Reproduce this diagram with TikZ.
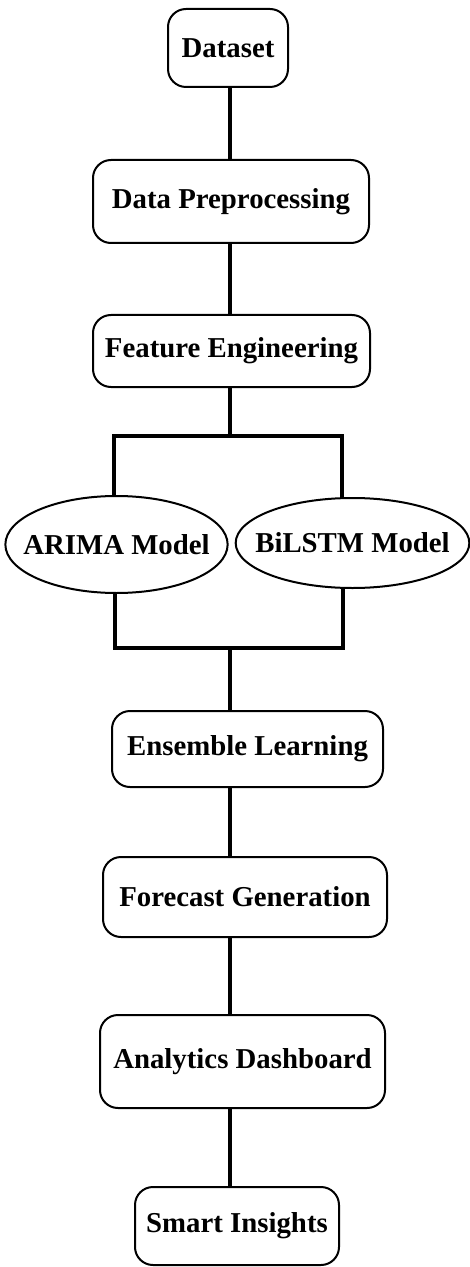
\documentclass[tikz,border=0pt]{standalone}
\usepackage{fontspec}
\setmainfont{Liberation Serif}
\usepackage{tikz}
\usetikzlibrary{shapes.geometric}

\begin{document}
\begin{tikzpicture}[x=0.5pt,y=-0.5pt,
    box/.style={draw,line width=1pt,rounded corners=9pt,align=center,inner sep=0pt,
      font=\fontsize{14.4}{16}\selectfont\bfseries},
    oval/.style={draw,line width=1pt,ellipse,inner xsep=-7.3pt,inner ysep=0pt,
      font=\fontsize{14.4}{16}\selectfont\bfseries},
    link/.style={line width=1.6pt}]
        \useasboundingbox (0,0) rectangle (470,1267);
        \coordinate (spine) at (230,0);
        \node[box,minimum width=60pt,minimum height=39pt] (dataset) at (228,48) {Dataset};
        \node[box,minimum width=138pt,minimum height=41.5pt] (prep) at (231,201.5) {Data Preprocessing};
        \node[box,minimum width=138.5pt,minimum height=36pt] (feat) at (231.5,351) {Feature Engineering};
        \node[oval,minimum width=108.5pt,minimum height=48.5pt] (arima) at (116.5,544.5) {ARIMA Model};
        \node[oval,minimum width=115.5pt,minimum height=45pt] (bilstm) at (352.5,543) {BiLSTM Model};
        \node[box,minimum width=135.5pt,minimum height=38pt] (ens) at (247.5,749) {Ensemble Learning};
        \node[box,minimum width=142pt,minimum height=40pt] (fore) at (245,897) {Forecast Generation};
        \node[box,minimum width=142.5pt,minimum height=46.5pt] (dash) at (242.5,1061.5) {Analytics Dashboard};
        \node[box,minimum width=102pt,minimum height=39pt] (insight) at (237,1226) {Smart Insights};
        \coordinate (split) at (230,436);
        \coordinate (splitl) at (114,436);
        \coordinate (splitr) at (342,436);
        \coordinate (join) at (230,648);
        \coordinate (joinl) at (115,648);
        \coordinate (joinr) at (343,648);
        \foreach \a/\b in {dataset/prep,prep/feat,ens/fore,fore/dash,dash/insight} {
          \draw[link] (spine |- \a.south) -- (spine |- \b.north);
        }
        \draw[link] (spine |- feat.south) -- (split);
        \draw[link] (splitl |- arima.north) -- (splitl) -- (splitr) -- (splitr |- bilstm.north);
        \draw[link] (joinl |- arima.south) -- (joinl) -- (joinr) -- (joinr |- bilstm.south);
        \draw[link] (join) -- (spine |- ens.north);
      \end{tikzpicture}
\end{document}
